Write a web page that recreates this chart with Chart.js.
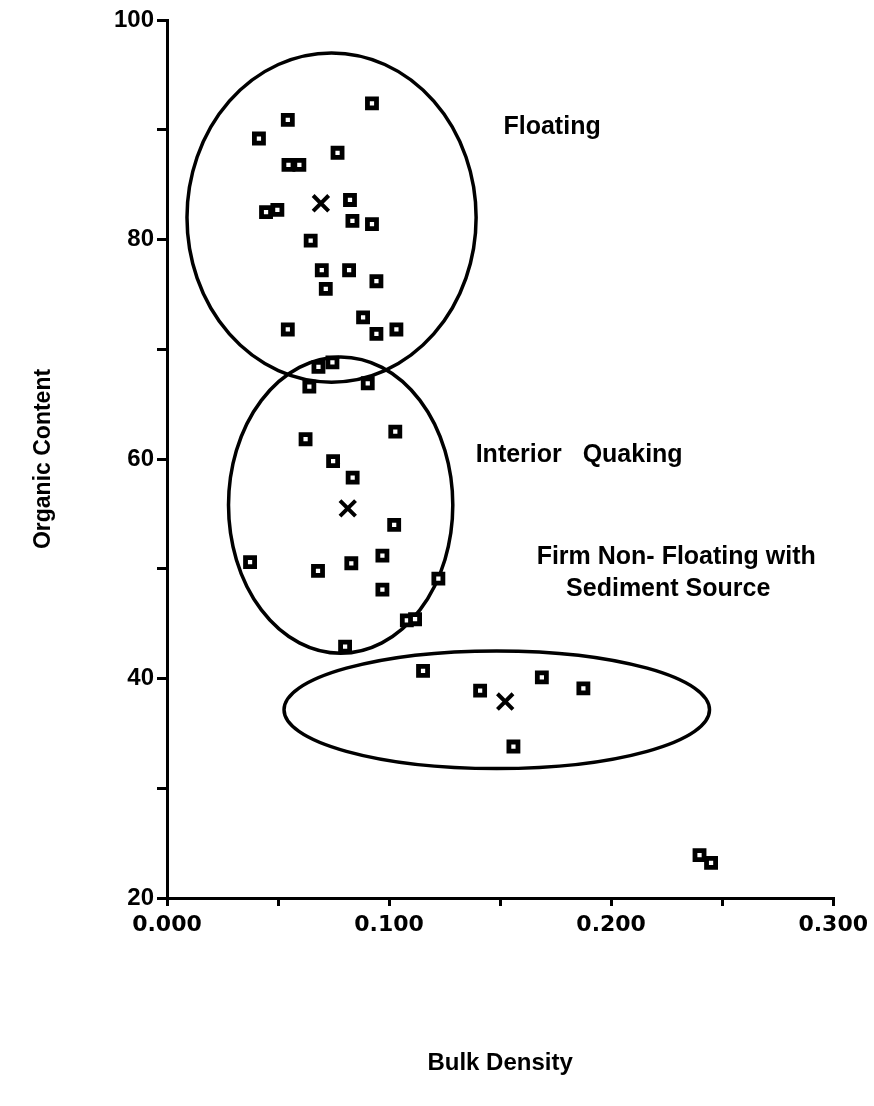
<!DOCTYPE html>
<html>
<head>
<meta charset="utf-8">
<script src="https://cdn.jsdelivr.net/npm/chart.js@4.4.1/dist/chart.umd.min.js"></script>
<style>
  body { margin: 0; background: #fff; }
  canvas { display: block; }
</style>
</head>
<body>
<canvas id="myChart" width="874" height="1106"></canvas>
<script>
// measured values (bulk density, organic content)
var floatingX = [0.0923,0.0544,0.0414,0.0768,0.0547,0.0596,0.0824,0.0446,0.0497,0.0835,0.0923,0.0647,0.0697,0.0820,0.0943,0.0715,0.0883,0.0544,0.0943,0.1033];
var floatingY = [92.4,90.9,89.2,87.9,86.8,86.8,83.6,82.5,82.7,81.7,81.4,79.9,77.2,77.2,76.2,75.5,72.9,71.8,71.4,71.8];
var interiorX = [0.0682,0.0745,0.0641,0.0904,0.0624,0.1028,0.0748,0.0836,0.1023,0.0374,0.0680,0.0830,0.0970,0.0970,0.1222,0.1080,0.1117,0.0802];
var interiorY = [68.4,68.8,66.6,66.9,61.8,62.5,59.8,58.3,54.0,50.6,49.8,50.5,51.2,48.1,49.1,45.3,45.4,42.9];
var firmX = [0.1153,0.1410,0.1688,0.1875,0.1560,0.2398,0.2450];
var firmY = [40.7,38.9,40.1,39.1,33.8,23.9,23.2];

// group means marked with X
var centerX = [0.0693,0.0814,0.1523];
var centerY = [83.3,55.5,37.9];

// group outlines (centre and half-axes in data units)
var ellipseCx = [0.0741,0.0782,0.1485];
var ellipseCy = [82.0,55.8,37.15];
var ellipseRx = [0.0651,0.0505,0.0958];
var ellipseRy = [15.0,13.5,5.36];

// group names
var groupLines = ["Floating","Interior   Quaking","Firm Non- Floating with","Sediment Source"];
var groupLineX = [0.1734,0.1856,0.2293,0.2257];
var groupLineY = [90.25,60.35,51.05,48.13];

var xTitle = "Bulk Density";
var yTitle = "Organic Content";

function toPoints(xs, ys) {
  return xs.map(function(x, i) { return {x: x, y: ys[i]}; });
}

var squareStyle = {
  pointStyle: 'rect',
  pointRadius: 6.4,
  borderWidth: 4.8,
  borderColor: '#000',
  backgroundColor: '#fff',
  showLine: false
};

var groupsPlugin = {
  id: 'groups',
  beforeDatasetsDraw: function(chart) {
    var ctx = chart.ctx, xs = chart.scales.x, ys = chart.scales.y;
    ctx.save();
    ctx.strokeStyle = '#000';
    ctx.lineWidth = 3.5;
    for (var i = 0; i < ellipseCx.length; i++) {
      var cx = xs.getPixelForValue(ellipseCx[i]);
      var cy = ys.getPixelForValue(ellipseCy[i]);
      var rx = xs.getPixelForValue(ellipseCx[i] + ellipseRx[i]) - cx;
      var ry = cy - ys.getPixelForValue(ellipseCy[i] + ellipseRy[i]);
      ctx.beginPath();
      ctx.ellipse(cx, cy, rx, ry, 0, 0, Math.PI * 2);
      ctx.stroke();
    }
    ctx.restore();
  },
  afterDatasetsDraw: function(chart) {
    var ctx = chart.ctx, xs = chart.scales.x, ys = chart.scales.y;
    ctx.save();
    ctx.fillStyle = '#000';
    ctx.font = 'bold 25px "Liberation Sans", Arial, sans-serif';
    ctx.textAlign = 'center';
    ctx.textBaseline = 'middle';
    for (var i = 0; i < groupLines.length; i++) {
      ctx.fillText(groupLines[i], xs.getPixelForValue(groupLineX[i]), ys.getPixelForValue(groupLineY[i]));
    }
    ctx.restore();
  }
};

var ctx = document.getElementById("myChart");
var myChart = new Chart(ctx, {
  type: 'scatter',
  data: {
    datasets: [
      Object.assign({label: "Floating", data: toPoints(floatingX, floatingY)}, squareStyle),
      Object.assign({label: "Interior Quaking", data: toPoints(interiorX, interiorY)}, squareStyle),
      Object.assign({label: "Firm Non-Floating", data: toPoints(firmX, firmY)}, squareStyle),
      {
        label: "Mean",
        data: toPoints(centerX, centerY),
        pointStyle: 'crossRot',
        pointRadius: 11,
        borderWidth: 4,
        borderColor: '#000'
      }
    ]
  },
  options: {
    responsive: false,
    animation: false,
    devicePixelRatio: 1,
    layout: { padding: { left: 0, right: 40, top: 20, bottom: 0 } },
    plugins: { legend: { display: false }, tooltip: { enabled: false } },
    scales: {
      x: {
        type: 'linear',
        min: 0,
        max: 0.3,
        afterFit: function(scale) { scale.height = 208; },
        border: { color: '#000', width: 3 },
        grid: { drawOnChartArea: false, color: '#000', lineWidth: 3, tickLength: 8 },
        ticks: {
          stepSize: 0.05,
          autoSkip: false,
          maxRotation: 0,
          padding: 6,
          color: '#000',
          font: { family: '"DejaVu Sans", sans-serif', size: 22, weight: 'bold' },
          callback: function(v) {
            return Math.abs(v * 10 - Math.round(v * 10)) < 1e-6 ? v.toFixed(3) : '';
          }
        },
        title: {
          display: true,
          text: xTitle,
          color: '#000',
          font: { family: '"Liberation Sans", Arial, sans-serif', size: 24, weight: 'bold' },
          padding: { bottom: 28 }
        }
      },
      y: {
        type: 'linear',
        min: 20,
        max: 100,
        afterFit: function(scale) { scale.width = 167; },
        border: { color: '#000', width: 3 },
        grid: { drawOnChartArea: false, color: '#000', lineWidth: 3, tickLength: 10 },
        ticks: {
          stepSize: 10,
          autoSkip: false,
          padding: 3,
          color: '#000',
          font: { family: '"Liberation Sans", Arial, sans-serif', size: 24, weight: 'bold' },
          callback: function(v) { return v % 20 === 0 ? v : ''; }
        },
        title: {
          display: true,
          text: yTitle,
          color: '#000',
          font: { family: '"Liberation Sans", Arial, sans-serif', size: 23, weight: 'bold' },
          padding: { top: 30 }
        }
      }
    }
  },
  plugins: [groupsPlugin]
});
</script>
</body>
</html>
